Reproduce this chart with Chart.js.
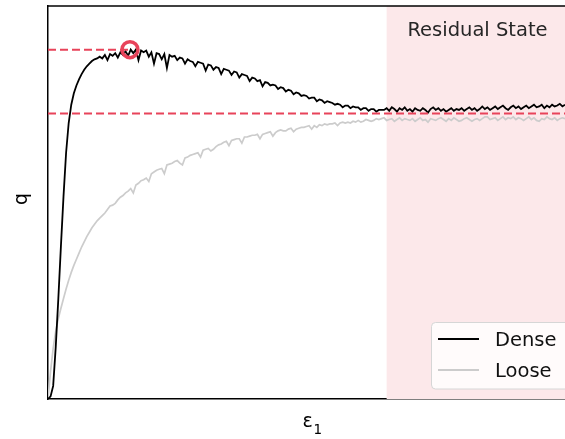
<!DOCTYPE html>
<html>
<head>
<meta charset="utf-8">
<script src="https://cdn.jsdelivr.net/npm/chart.js@4"></script>
<style>
html,body{margin:0;padding:0;background:#fff;}
#c{display:block;}
</style>
</head>
<body>
<canvas id="c" width="565" height="439"></canvas>
<script>
// ---- data ----
const strain = [
  0.0,0.1,0.2,0.3,0.4,0.5,0.6,0.7,0.8,0.9,
  1.0,1.1,1.2,1.3,1.4,1.5,1.6,1.7,1.8,1.9,
  2.0,2.1,2.2,2.3,2.4,2.5,2.6,2.7,2.8,2.9,
  3.0,3.1,3.2,3.3,3.4,3.5,3.6,3.7,3.8,3.9,
  4.0,4.1,4.2,4.3,4.4,4.5,4.6,4.7,4.8,4.9,
  5.0,5.1,5.2,5.3,5.4,5.5,5.6,5.7,5.8,5.9,
  6.0,6.1,6.2,6.3,6.4,6.5,6.6,6.7,6.8,6.9,
  7.0,7.1,7.2,7.3,7.4,7.5,7.6,7.7,7.8,7.9,
  8.0,8.1,8.2,8.3,8.4,8.5,8.6,8.7,8.8,8.9,
  9.0,9.1,9.2,9.3,9.4,9.5,9.6,9.7,9.8,9.9,
  10.0,10.1,10.2,10.3,10.4,10.5,10.6,10.7,10.8,10.9,
  11.0,11.1,11.2,11.3,11.4,11.5,11.6,11.7,11.8,11.9,
  12.0,12.1,12.2,12.3,12.4,12.5,12.6,12.7,12.8,12.9,
  13.0,13.1,13.2,13.3,13.4,13.5,13.6,13.7,13.8,13.9,
  14.0,14.1,14.2,14.3,14.4,14.5,14.6,14.7,14.8,14.9,
  15.0,15.1,15.2,15.3,15.4,15.5,15.6,15.7,15.8,15.9,
  16.0,16.1,16.2,16.3,16.4,16.5,16.6,16.7,16.8,16.9,
  17.0,17.1,17.2,17.3,17.4,17.5,17.6,17.7,17.8,17.9,
  18.0,18.1,18.2,18.3,18.4,18.5,18.6,18.7,18.8,18.9,
  19.0,19.1,19.2,19.3,19.4,19.5,19.6,19.7,19.8,19.9,
  20.0
];
const denseQ = [
  0,3,15,60,115,175,232,282,316,337,
  350,359,366,372,377,381,384,387,389,390,
  392,390,394,388,395,393,396,391,397,394,
  398,393,400,396,400,388,399,397,399,392,
  397,384,396,395,389,395,379,394,392,393,
  388,391,390,384,389,387,386,381,386,385,
  384,376,383,382,377,380,379,372,378,377,
  376,371,375,374,368,372,371,370,364,368,
  367,364,365,358,363,362,359,360,359,355,
  357,356,352,354,353,349,351,350,347,348,
  347,344,345,345,341,343,342,339,341,340,
  339,337,338,337,334,336,336,333,335,334,
  334,331,333,333,330,332,332,329,331,331,
  331,333,330,334,332,329,333,331,334,330,
  332,329,333,331,330,333,331,328,332,334,
  331,333,330,332,329,331,333,330,332,331,
  333,330,332,334,331,333,330,332,335,332,
  334,331,333,335,332,334,336,333,331,334,
  336,333,335,332,334,336,333,335,337,334,
  335,337,333,336,334,337,335,336,338,335,
  337
];
const looseQ = [
  0,32,58,78,92,104,115,126,136,145,
  153,160,167,174,180,186,191,196,200,204,
  207,210,213,217,221,222,224,228,231,233,
  236,238,241,236,245,247,250,251,253,249,
  258,260,262,263,264,258,268,269,270,272,
  273,270,268,276,277,279,280,281,282,277,
  285,286,287,284,286,289,291,292,294,295,
  290,296,297,298,298,293,300,300,301,302,
  302,303,298,303,304,305,306,301,305,307,
  308,307,307,309,310,306,309,310,311,311,
  312,313,309,313,311,314,313,315,314,315,
  315,316,313,316,317,316,317,316,318,317,
  319,317,318,320,319,318,319,321,320,321,
  322,319,320,321,318,320,322,319,321,320,
  319,321,318,320,322,319,320,317,321,320,
  319,321,322,320,318,321,319,322,320,318,
  319,321,322,320,318,320,321,319,321,323,
  323,320,321,322,319,321,323,320,322,321,
  323,320,322,321,319,321,323,320,322,319,
  318,321,320,323,321,320,322,319,321,322,
  321
];
const peakStrain = 3.17;
const peakQ = 400;
const residualQ = 327;
const residualStart = 13.1;
const seriesNames = ["Dense", "Loose"];
const regionLabel = "Residual State";
const xTitle = "ε";
const xTitleSub = "1";
const yTitle = "q";

// ---- styles ----
const RED = '#e8435a';
const FONT = '"DejaVu Sans", sans-serif';

const toXY = (xs, ys) => xs.map((x, i) => ({x: x, y: ys[i]}));

const decor = {
  id: 'decor',
  beforeDatasetsDraw(chart) {
    const {ctx, chartArea, scales} = chart;
    const x0 = scales.x.getPixelForValue(residualStart);
    ctx.save();
    ctx.fillStyle = '#fce8ea';
    ctx.fillRect(x0, chartArea.top, chartArea.right - x0 + 2, chartArea.bottom - chartArea.top);
    ctx.restore();
  },
  afterDatasetsDraw(chart) {
    const {ctx, scales} = chart;
    // peak marker (hollow circle) placed through the chart scales
    const px = scales.x.getPixelForValue(peakStrain);
    const py = scales.y.getPixelForValue(peakQ);
    ctx.save();
    ctx.strokeStyle = RED;
    ctx.lineWidth = 3.5;
    ctx.beginPath();
    ctx.arc(px, py, 8, 0, Math.PI * 2);
    ctx.stroke();
    ctx.restore();
  },
  afterDraw(chart) {
    const {ctx, chartArea} = chart;
    ctx.save();
    // top spine
    ctx.strokeStyle = '#000';
    ctx.lineWidth = 1.5;
    ctx.beginPath();
    ctx.moveTo(chartArea.left - 0.75, chartArea.top);
    ctx.lineTo(chartArea.right + 2, chartArea.top);
    ctx.stroke();

    // region label
    ctx.fillStyle = '#262626';
    ctx.font = '19.5px ' + FONT;
    ctx.textAlign = 'center';
    ctx.textBaseline = 'alphabetic';
    ctx.fillText(regionLabel, 477.5, 36);

    // axis titles
    ctx.fillStyle = '#000';
    ctx.font = '19px ' + FONT;
    ctx.textAlign = 'left';
    ctx.fillText(xTitle, 302.5, 427);
    ctx.font = '13.5px ' + FONT;
    ctx.fillText(xTitleSub, 313.5, 434);

    ctx.save();
    ctx.translate(27, 199);
    ctx.rotate(-Math.PI / 2);
    ctx.font = '19px ' + FONT;
    ctx.textAlign = 'center';
    ctx.fillText(yTitle, 0, 0);
    ctx.restore();

    // legend
    const lx = 431.5, ly = 322.5, lw = 150, lh = 66.5, r = 4;
    ctx.beginPath();
    ctx.moveTo(lx + r, ly);
    ctx.lineTo(lx + lw - r, ly);
    ctx.arcTo(lx + lw, ly, lx + lw, ly + r, r);
    ctx.lineTo(lx + lw, ly + lh - r);
    ctx.arcTo(lx + lw, ly + lh, lx + lw - r, ly + lh, r);
    ctx.lineTo(lx + r, ly + lh);
    ctx.arcTo(lx, ly + lh, lx, ly + lh - r, r);
    ctx.lineTo(lx, ly + r);
    ctx.arcTo(lx, ly, lx + r, ly, r);
    ctx.closePath();
    ctx.fillStyle = 'rgba(255,255,255,0.8)';
    ctx.fill();
    ctx.strokeStyle = '#d6d6d6';
    ctx.lineWidth = 1;
    ctx.stroke();

    const items = [
      {label: seriesNames[0], color: '#000', y: 339},
      {label: seriesNames[1], color: '#cccccc', y: 370}
    ];
    ctx.font = '19.5px ' + FONT;
    ctx.textAlign = 'left';
    ctx.textBaseline = 'alphabetic';
    items.forEach(it => {
      ctx.strokeStyle = it.color;
      ctx.lineWidth = 2;
      ctx.beginPath();
      ctx.moveTo(438, it.y);
      ctx.lineTo(479, it.y);
      ctx.stroke();
      ctx.fillStyle = '#111';
      ctx.fillText(it.label, 495, it.y + 7);
    });
    ctx.restore();
  }
};

new Chart(document.getElementById('c'), {
  type: 'line',
  data: {
    datasets: [
      {
        label: 'peak level',
        data: [{x: 0, y: peakQ}, {x: peakStrain, y: peakQ}],
        borderColor: RED,
        borderWidth: 2,
        borderDash: [8, 4],
        pointRadius: 0
      },
      {
        label: 'residual level',
        data: [{x: 0, y: residualQ}, {x: 20, y: residualQ}],
        borderColor: RED,
        borderWidth: 2,
        borderDash: [8, 4],
        pointRadius: 0
      },
      {
        label: seriesNames[0],
        data: toXY(strain, denseQ),
        borderColor: '#000',
        borderWidth: 1.8,
        pointRadius: 0,
        tension: 0
      },
      {
        label: seriesNames[1],
        data: toXY(strain, looseQ),
        borderColor: '#cccccc',
        borderWidth: 1.7,
        pointRadius: 0,
        tension: 0
      }
    ]
  },
  options: {
    responsive: false,
    animation: false,
    devicePixelRatio: 1,
    layout: {padding: {left: 48, top: 6, right: 0, bottom: 40}},
    plugins: {legend: {display: false}, tooltip: {enabled: false}},
    scales: {
      x: {
        type: 'linear', min: 0, max: 20,
        ticks: {display: false},
        grid: {display: false, drawTicks: false},
        border: {display: true, color: '#000', width: 1.5}
      },
      y: {
        type: 'linear', min: 0, max: 450,
        ticks: {display: false},
        grid: {display: false, drawTicks: false},
        border: {display: true, color: '#000', width: 1.5}
      }
    }
  },
  plugins: [decor]
});
</script>
</body>
</html>
